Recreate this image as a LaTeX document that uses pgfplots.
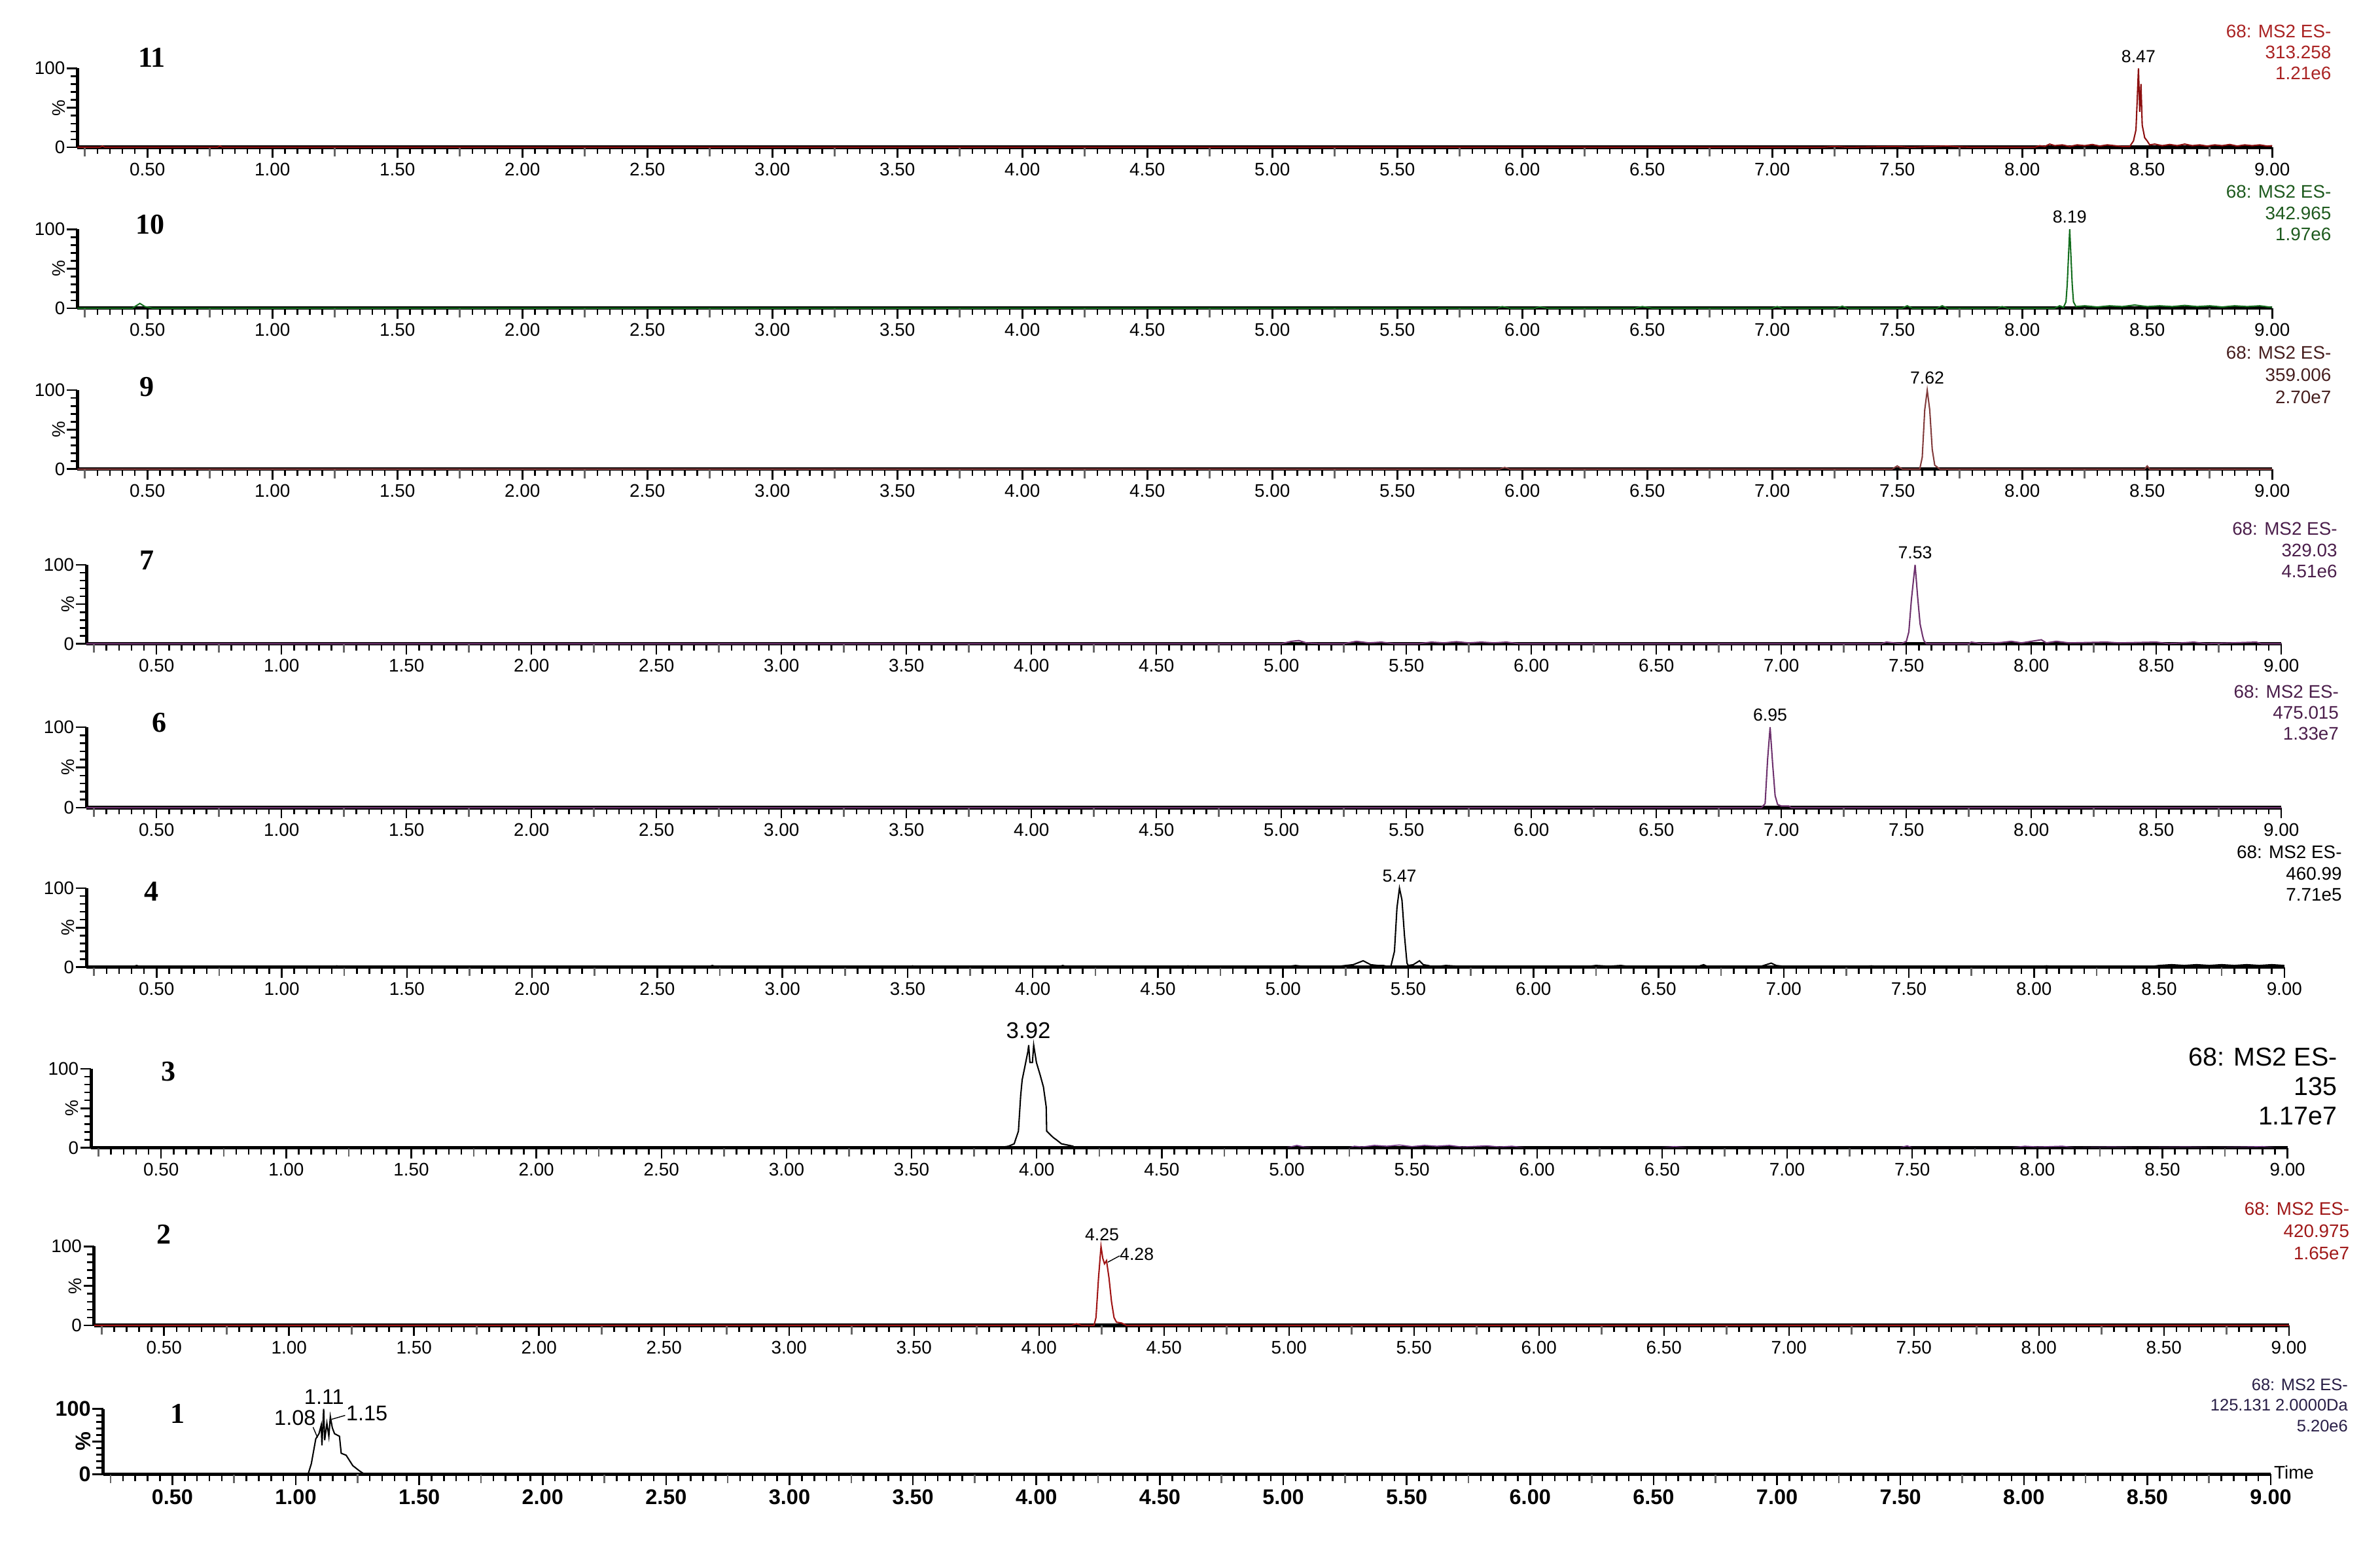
\documentclass[border=0pt]{standalone}
\usepackage{fontspec}
\setmainfont{Liberation Sans}
\newfontfamily\numfont{Liberation Serif}
\usepackage{graphicx}
\usepackage{pgfplots}
\pgfplotsset{compat=1.18}

\definecolor{red11}{RGB}{140,15,15}
\definecolor{txt11}{RGB}{170,35,35}
\definecolor{grn10}{RGB}{20,110,30}
\definecolor{txt10}{RGB}{30,90,30}
\definecolor{brn9}{RGB}{130,60,60}
\definecolor{txt9}{RGB}{70,30,30}
\definecolor{pur7}{RGB}{110,50,110}
\definecolor{txt7}{RGB}{75,30,75}
\definecolor{pur3}{RGB}{120,60,140}
\definecolor{red2}{RGB}{160,20,20}
\definecolor{txt2}{RGB}{160,25,25}
\definecolor{txt1}{RGB}{40,30,70}

\pgfplotsset{
  chrom/.style={
    scale only axis, anchor=south west, clip=false,
    xmin=0.22, xmax=9.0, ymin=0, ymax=100,
    axis x line*=bottom, axis y line*=left,
    axis line style={-, line width=2.2pt, black},
    every outer x axis line/.append style={-},
    every outer y axis line/.append style={-},
    tick align=outside,
    /pgf/number format/assume math mode=true,
    xtick={0.5,1,...,9},
    xticklabels={0.50,1.00,1.50,2.00,2.50,3.00,3.50,4.00,4.50,5.00,5.50,6.00,6.50,7.00,7.50,8.00,8.50,9.00},
    minor xtick={0.25,0.30,...,9.0},
    extra x ticks={0.25,0.75,...,8.75},
    extra x tick labels={},
    extra x tick style={major tick length=6pt, tick style={black!60, line width=1.1pt}},
    ytick={0,100}, yticklabels={0,100}, minor ytick={10,20,...,90},
    extra y ticks={50}, extra y tick labels={\rotatebox{90}{\%}},
    major tick length=7pt, minor tick length=4.5pt,
    tick style={black, line width=1.1pt},
    tick label style={font=\fontsize{12}{12}\selectfont, inner sep=1pt},
    xticklabel shift=2pt,
    every axis plot/.append style={line width=0.9pt, sharp plot, mark=none},
  }
}

\newcommand{\plabel}[3]{\node[anchor=base, yshift=4pt, inner sep=0pt, font=\fontsize{11.5}{11.5}\selectfont] at (axis cs:#1,#2) {#3};}

\begin{document}
\begin{tikzpicture}
\useasboundingbox (0pt,0pt) rectangle (1568pt,-1017pt);

% ---------- 11
\begin{axis}[chrom, at={(51pt,-97pt)}, width=1446pt, height=52pt]
\addplot[red11] coordinates {(0.22,0)(0.31,0)(0.32,1.5)(0.33,0)(0.78,0)(0.79,1.5)(0.80,0)(7.20,0)(7.25,1)(7.3,0)(7.5,1)(7.55,0)(7.7,1.5)(7.75,0.5)(7.8,0)(8.05,0)(8.07,2)(8.09,1)(8.11,4)(8.13,2)(8.16,3)(8.19,1)(8.22,3)(8.25,2)(8.28,3.5)(8.31,1.5)(8.34,3)(8.37,2)(8.40,1)(8.43,1)(8.445,8)(8.455,22)(8.46,60)(8.465,100)(8.47,45)(8.475,80)(8.48,28)(8.49,12)(8.50,8)(8.51,3)(8.53,4)(8.56,2)(8.59,3.5)(8.62,2)(8.65,4)(8.68,2)(8.71,3)(8.74,1.5)(8.77,3)(8.80,2)(8.83,3.5)(8.86,1.5)(8.89,3)(8.92,2)(8.95,3)(8.98,1.5)(9.0,2)};
\plabel{8.465}{100}{8.47}
\end{axis}

% ---------- 10
\begin{axis}[chrom, at={(51pt,-203pt)}, width=1446pt, height=52pt]
\addplot[grn10] coordinates {(0.22,0)(0.44,0)(0.46,4)(0.47,6)(0.49,2)(0.52,0)(5.9,0)(5.92,2)(5.95,0)(6.05,0)(6.07,1.5)(6.1,0)(6.45,0)(6.48,2)(6.52,0)(7.0,0)(7.02,2)(7.04,0)(7.26,0)(7.28,2.5)(7.3,0)(7.52,0)(7.54,3)(7.56,0)(7.66,0)(7.68,3)(7.7,0)(7.9,0)(7.92,2)(7.94,0)(8.13,0)(8.15,3)(8.165,1)(8.175,8)(8.18,30)(8.185,65)(8.19,100)(8.195,65)(8.20,30)(8.205,8)(8.215,2)(8.25,3)(8.3,1.5)(8.35,3)(8.4,2)(8.45,4)(8.5,2)(8.55,3)(8.6,2)(8.65,3.5)(8.7,2)(8.75,3)(8.8,1.5)(8.85,3)(8.9,2)(8.95,3)(9.0,1)};
\plabel{8.19}{100}{8.19}
\end{axis}

% ---------- 9
\begin{axis}[chrom, at={(51pt,-309pt)}, width=1446pt, height=52pt]
\addplot[brn9] coordinates {(0.22,0)(5.91,0)(5.93,2)(5.95,0)(7.48,0)(7.50,4)(7.52,0)(7.59,0)(7.60,15)(7.61,75)(7.62,100)(7.63,75)(7.64,25)(7.65,5)(7.67,0)(8.49,0)(8.50,4)(8.51,0)(9.0,0)};
\plabel{7.62}{100}{7.62}
\end{axis}

% ---------- 7
\begin{axis}[chrom, at={(57pt,-424pt)}, width=1446pt, height=52pt]
\addplot[pur7] coordinates {(0.22,0)(5.0,0)(5.04,3)(5.07,4)(5.1,1)(5.15,0)(5.25,0)(5.3,3)(5.35,1)(5.4,2)(5.45,0)(5.55,0)(5.6,2)(5.65,1)(5.7,2.5)(5.75,1)(5.8,2)(5.85,1)(5.9,2)(5.95,0)(7.40,0)(7.42,2)(7.45,1)(7.48,0)(7.50,3)(7.51,15)(7.52,55)(7.535,100)(7.545,60)(7.555,25)(7.565,10)(7.57,4)(7.58,0)(7.75,0)(7.76,2)(7.8,0)(7.88,1.5)(7.92,3)(7.96,1)(8.0,3)(8.04,5)(8.06,1)(8.1,3)(8.15,1)(8.3,2)(8.35,1)(8.5,2)(8.55,0)(8.65,2)(8.7,0)(8.9,2)(8.92,0)(9.0,0)};
\plabel{7.535}{100}{7.53}
\end{axis}

% ---------- 6
\begin{axis}[chrom, at={(57pt,-532pt)}, width=1446pt, height=53pt]
\addplot[pur7] coordinates {(0.22,0)(6.92,0)(6.935,5)(6.945,60)(6.955,100)(6.965,55)(6.975,15)(6.985,4)(7.0,2)(7.03,2)(7.04,0)(9.0,0)};
\plabel{6.955}{100}{6.95}
\end{axis}

% ---------- 4
\begin{axis}[chrom, at={(57pt,-637pt)}, width=1448pt, height=52pt]
\addplot[black] coordinates {(0.22,0)(0.4,0)(0.42,2)(0.44,0)(1.2,0)(1.22,1.5)(1.24,0)(2.7,0)(2.72,2)(2.74,0)(3.5,0)(3.52,1.5)(3.54,0)(4.1,0)(4.12,2)(4.14,0)(4.6,0)(4.62,1.5)(4.64,0)(5.0,0)(5.05,2)(5.1,0)(5.2,0)(5.25,2)(5.28,3)(5.32,8)(5.35,3)(5.38,2)(5.40,2)(5.43,0)(5.445,20)(5.455,75)(5.465,100)(5.475,85)(5.485,40)(5.495,5)(5.50,2)(5.52,3)(5.545,8)(5.56,3)(5.58,2)(5.60,0)(5.65,2)(5.7,1)(5.75,0)(6.2,0)(6.25,2)(6.3,1)(6.35,2)(6.4,0)(6.65,0)(6.68,3)(6.7,0)(6.9,0)(6.93,3)(6.95,5)(6.97,2)(7.0,1)(7.3,0)(7.35,1.5)(7.4,0)(8.0,0)(8.05,1.5)(8.1,0)(8.45,0)(8.5,2)(8.55,3)(8.6,2)(8.65,3)(8.7,2)(8.75,3)(8.8,2)(8.85,3)(8.9,2)(8.95,3)(9.0,2)};
\plabel{5.465}{100}{5.47}
\end{axis}

% ---------- 3
\begin{axis}[chrom, at={(60pt,-756pt)}, width=1447pt, height=52pt]
\addplot[pur3, line width=0.7pt] coordinates {(5.0,0)(5.04,3)(5.07,1)(5.1,0)(5.25,0)(5.27,2)(5.3,1)(5.35,3)(5.4,2)(5.45,3.5)(5.5,1.5)(5.55,3)(5.6,2)(5.65,3)(5.7,1)(5.8,2.5)(5.85,1)(5.9,2)(5.95,0)(6.5,0)(6.55,1.5)(6.6,0)(7.45,0)(7.48,2.5)(7.5,0)(7.9,0)(7.95,2)(8.0,1)(8.1,2)(8.15,0)(8.3,1)(8.4,0)(8.6,1)(8.7,0)(8.9,1.5)(8.95,0)(9.0,0)};
\addplot[black] coordinates {(0.22,0)(3.85,0)(3.888,2)(3.910,5)(3.927,21)(3.936,66)(3.942,86)(3.953,103)(3.965,122)(3.968,130)(3.973,108)(3.983,108)(3.988,130)(3.999,108)(4.014,92)(4.027,77)(4.038,52)(4.040,21)(4.053,17)(4.066,13)(4.079,10)(4.099,5)(4.145,2)(4.15,0)(9.0,0)};
\node[anchor=base, yshift=4.5pt, inner sep=0pt, font=\fontsize{15}{15}\selectfont] at (axis cs:3.967,130) {3.92};
\end{axis}

% ---------- 2
\begin{axis}[chrom, at={(62pt,-873pt)}, width=1446pt, height=52pt]
\addplot[red2] coordinates {(0.22,0)(4.13,0)(4.15,2)(4.17,0)(4.22,0)(4.228,10)(4.238,60)(4.248,100)(4.255,85)(4.262,78)(4.27,82)(4.28,60)(4.29,30)(4.30,10)(4.31,4)(4.33,3)(4.35,0)(9.0,0)};
\plabel{4.252}{100}{4.25}
\draw[line width=0.6pt] (axis cs:4.275,80) -- (axis cs:4.322,88);
\node[anchor=west, inner sep=0pt, font=\fontsize{11.5}{11.5}\selectfont] at (axis cs:4.322,90) {4.28};
\end{axis}

% ---------- 1
\begin{axis}[chrom, at={(68pt,-971pt)}, width=1428pt, height=43pt,
  tick label style={font=\bfseries\fontsize{14}{14}\selectfont, inner sep=1pt}]
\addplot[black] coordinates {(0.22,0)(1.050,0)(1.063,16)(1.081,54)(1.094,62)(1.103,75)(1.106,44)(1.113,100)(1.117,52)(1.126,78)(1.134,58)(1.140,88)(1.148,71)(1.157,62)(1.177,58)(1.184,32)(1.204,29)(1.231,13)(1.258,5)(1.278,0)(9.0,0)};
\node[anchor=base, yshift=3pt, inner sep=0pt, font=\fontsize{14}{14}\selectfont] at (axis cs:1.115,100) {1.11};
\draw[line width=0.6pt] (axis cs:1.07,72) -- (axis cs:1.088,56);
\node[anchor=east, inner sep=0.5pt, font=\fontsize{14}{14}\selectfont] at (axis cs:1.085,86) {1.08};
\draw[line width=0.6pt] (axis cs:1.145,84) -- (axis cs:1.20,90);
\node[anchor=west, inner sep=0.5pt, font=\fontsize{14}{14}\selectfont] at (axis cs:1.20,93) {1.15};
\end{axis}

% panel numbers
\begin{scope}[every node/.style={font=\numfont\bfseries\fontsize{19}{19}\selectfont}]
\node at (100pt,-38pt) {11};
\node at (99pt,-148pt) {10};
\node at (97pt,-255pt) {9};
\node at (97pt,-369pt) {7};
\node at (105pt,-476pt) {6};
\node at (100pt,-587pt) {4};
\node at (111pt,-706pt) {3};
\node at (108pt,-813pt) {2};
\node at (117pt,-931pt) {1};
\end{scope}

% trace headers
\begin{scope}[every node/.style={anchor=north east, align=right, inner sep=0pt}]
\node[text=txt11, font=\fontsize{12}{14}\selectfont] at (1536pt,-16pt) {68: MS2 ES-\\313.258\\1.21e6};
\node[text=txt10, font=\fontsize{12}{14}\selectfont] at (1536pt,-122pt) {68: MS2 ES-\\342.965\\1.97e6};
\node[text=txt9, font=\fontsize{12}{14.5}\selectfont] at (1536pt,-228pt) {68: MS2 ES-\\359.006\\2.70e7};
\node[text=txt7, font=\fontsize{12}{14}\selectfont] at (1540pt,-344pt) {68: MS2 ES-\\329.03\\4.51e6};
\node[text=txt7, font=\fontsize{12}{14}\selectfont] at (1541pt,-451pt) {68: MS2 ES-\\475.015\\1.33e7};
\node[text=black, font=\fontsize{12}{14}\selectfont] at (1543pt,-557pt) {68: MS2 ES-\\460.99\\7.71e5};
\node[text=black, font=\fontsize{17}{19.5}\selectfont] at (1540pt,-690pt) {68: MS2 ES-\\135\\1.17e7};
\node[text=txt2, font=\fontsize{12}{14.5}\selectfont] at (1548pt,-792pt) {68: MS2 ES-\\420.975\\1.65e7};
\node[text=txt1, font=\fontsize{11}{13.5}\selectfont] at (1547pt,-908pt) {68: MS2 ES-\\125.131 2.0000Da\\5.20e6};
\end{scope}
\node[anchor=west, inner sep=1pt, font=\fontsize{12}{12}\selectfont] at (1497pt,-970pt) {Time};
\end{tikzpicture}
\end{document}
